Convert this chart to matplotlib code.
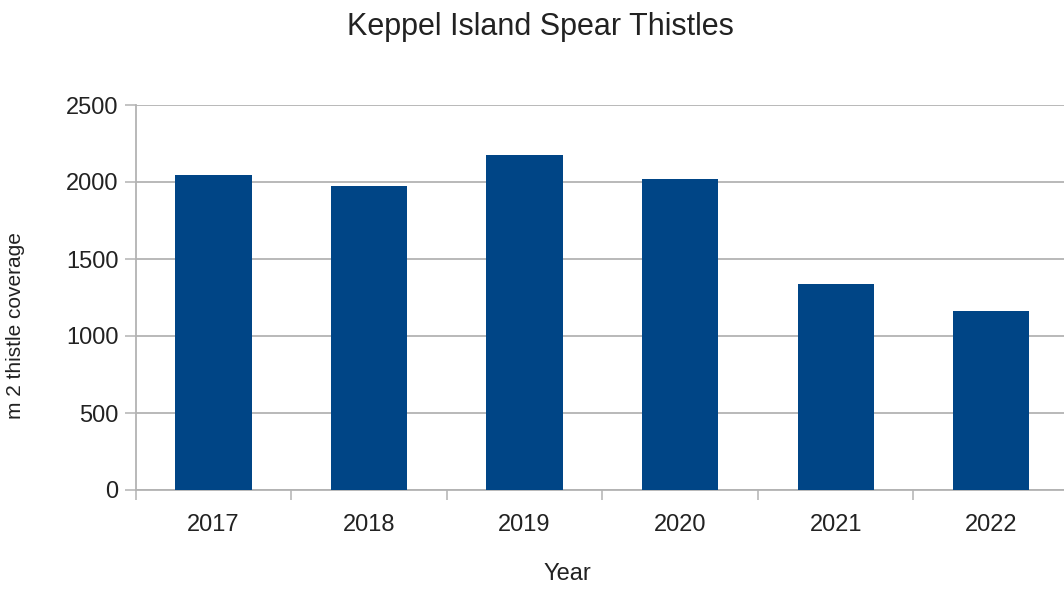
import matplotlib
matplotlib.use("Agg")
import matplotlib.pyplot as plt
from matplotlib.ticker import FixedLocator, NullFormatter

plt.rcParams['font.family'] = ['Liberation Sans', 'DejaVu Sans']

years = ["2017", "2018", "2019", "2020", "2021", "2022"]
coverage = [2045, 1975, 2175, 2020, 1335, 1160]
y_ticks = [0, 500, 1000, 1500, 2000, 2500]

bar_color = "#004586"
grid_color = "#b3b3b3"
text_color = "#222222"

W, H = 1064, 590
fig = plt.figure(figsize=(W / 100, H / 100), dpi=100)
fig.patch.set_facecolor("white")

# plot area continues slightly past the right edge of the canvas
ax = fig.add_axes([135.7 / W, 1 - 490 / H, 933.3 / W, 385 / H])

x = list(range(len(years)))
ax.bar(x, coverage, width=0.49, color=bar_color, zorder=3)

ax.set_xlim(-0.5, len(years) - 0.5)
ax.set_ylim(0, 2500)
ax.set_yticks(y_ticks)
ax.set_yticklabels([str(v) for v in y_ticks])
ax.yaxis.grid(True, color=grid_color, linewidth=1.3, zorder=0)
ax.set_axisbelow(True)

# category labels centred under bars, tick marks on the boundaries
ax.set_xticks(x)
ax.set_xticklabels(years)
ax.tick_params(axis="x", which="major", length=0, pad=17,
               labelsize=17, labelcolor=text_color)
ax.xaxis.set_minor_locator(FixedLocator([i - 0.5 for i in range(len(years) + 1)]))
ax.xaxis.set_minor_formatter(NullFormatter())
ax.tick_params(axis="x", which="minor", length=7, width=1.1, color=grid_color)
ax.tick_params(axis="y", length=8, width=1.1, color=grid_color, pad=4.5,
               labelsize=17, labelcolor=text_color)

for side in ("top", "right"):
    ax.spines[side].set_visible(False)
for side in ("left", "bottom"):
    ax.spines[side].set_color(grid_color)
    ax.spines[side].set_linewidth(1.3)

fig.text(540 / W, 1 - 27 / H, "Keppel Island Spear Thistles",
         ha="center", va="center", fontsize=22, color=text_color)
fig.text(567 / W, 1 - 574 / H, "Year", ha="center", va="center",
         fontsize=17, color=text_color)
fig.text(16 / W, 1 - 326 / H, "m 2 thistle coverage", ha="center",
         va="center", rotation=90, fontsize=15, color=text_color)

fig.savefig("out.png", dpi=100, facecolor="white")
